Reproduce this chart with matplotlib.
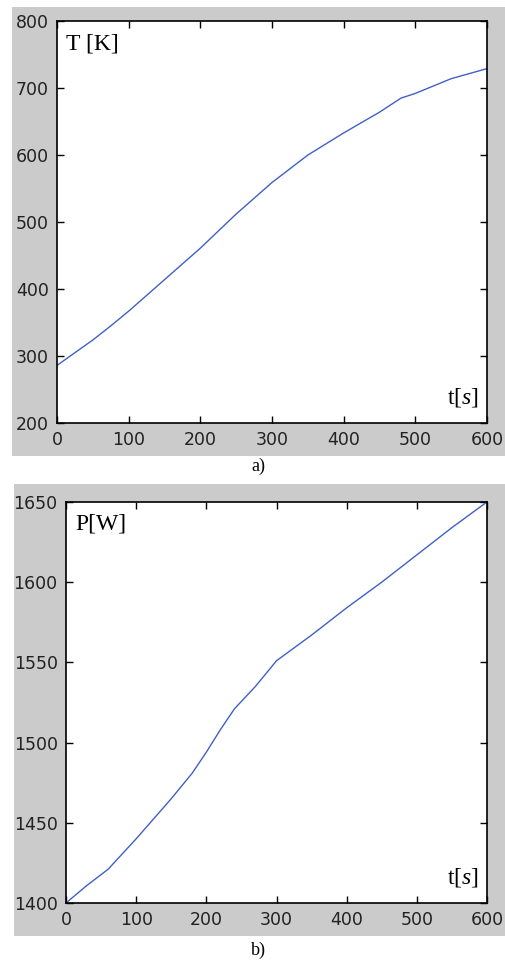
import matplotlib
matplotlib.use('Agg')
import matplotlib.pyplot as plt
from matplotlib.patches import Rectangle

plt.rcParams['mathtext.fontset'] = 'custom'
plt.rcParams['mathtext.it'] = 'Liberation Serif:italic'
plt.rcParams['mathtext.rm'] = 'Liberation Serif'

# ---------------- data ----------------
t_a = [0, 25, 50, 75, 100, 150, 200, 250, 300, 350, 400, 450, 480, 500, 550, 600]
T_a = [286, 305, 324, 345, 367, 414, 461, 512, 559, 600, 633, 664, 685, 692, 714, 729]

t_b = [0, 30, 60, 100, 150, 180, 200, 220, 240, 270, 285, 300, 350, 400, 450, 500, 550, 600]
P_b = [1400, 1411, 1421, 1440, 1465, 1481, 1494, 1508, 1521, 1535, 1543, 1551, 1567, 1584, 1600, 1617, 1634, 1650]

xticks = [0, 100, 200, 300, 400, 500, 600]
yticks_a = [200, 300, 400, 500, 600, 700, 800]
yticks_b = [1400, 1450, 1500, 1550, 1600, 1650]

line_col = '#4060c6'
gray = '#cbcbcb'

fig = plt.figure(figsize=(5.05, 9.61), dpi=100)
fig.patch.set_facecolor('white')

# gray frames behind the panels
fig.patches.append(Rectangle((0.0238, 0.5255), 0.9762, 0.4672, transform=fig.transFigure,
                             facecolor=gray, edgecolor='none', zorder=-5))
fig.patches.append(Rectangle((0.0277, 0.026), 0.9723, 0.4704, transform=fig.transFigure,
                             facecolor=gray, edgecolor='none', zorder=-5))

ax1 = fig.add_axes([0.1129, 0.5598, 0.8515, 0.4183])
ax2 = fig.add_axes([0.1307, 0.0604, 0.8337, 0.4173])

def style(ax, yt, ylim):
    ax.set_xlim(0, 600)
    ax.set_ylim(*ylim)
    ax.set_xticks(xticks)
    ax.set_yticks(yt)
    ax.tick_params(direction='in', length=5, width=1, top=True, right=True,
                   labelsize=12.5, pad=6, colors='black')
    for lab in ax.get_xticklabels() + ax.get_yticklabels():
        lab.set_color('#222222')
    for s in ax.spines.values():
        s.set_linewidth(1.2)
    ax.set_facecolor('white')

ax1.plot(t_a, T_a, color=line_col, linewidth=1.0)
style(ax1, yticks_a, (200, 800))
ax1.text(0.022, 0.97, 'T [K]', transform=ax1.transAxes, family='Liberation Serif',
         fontsize=17, va='top', ha='left')
ax1.text(0.98, 0.035, r't[$s$]', transform=ax1.transAxes, family='Liberation Serif',
         fontsize=17, va='bottom', ha='right')

ax2.plot(t_b, P_b, color=line_col, linewidth=1.0)
style(ax2, yticks_b, (1400, 1650))
ax2.text(0.022, 0.97, 'P[W]', transform=ax2.transAxes, family='Liberation Serif',
         fontsize=17, va='top', ha='left')
ax2.text(0.98, 0.035, r't[$s$]', transform=ax2.transAxes, family='Liberation Serif',
         fontsize=17, va='bottom', ha='right')

fig.text(0.511, 0.515, 'a)', family='Liberation Serif', fontsize=13, ha='center', va='center')
fig.text(0.511, 0.0114, 'b)', family='Liberation Serif', fontsize=13, ha='center', va='center')

fig.savefig('out.png', dpi=100)
